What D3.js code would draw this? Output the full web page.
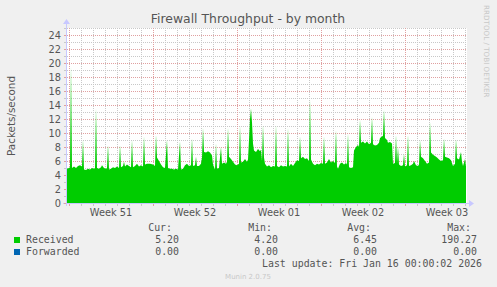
<!DOCTYPE html>
<html lang="en">
<head>
  <meta charset="UTF-8">
  <title>Firewall Throughput - by month</title>
  <style>
    body {
      margin: 0;
      padding: 0;
      background-color: #f0f0f0;
    }
    svg {
      display: block;
      font-family: "DejaVu Sans", sans-serif;
    }
    .mono {
      font-family: "DejaVu Sans Mono", monospace;
      font-size: 9.9px;
      fill: #555;
    }
  </style>
</head>
<body>
  <svg id="chart" width="497" height="287"></svg>

  <script src="https://d3js.org/d3.v7.min.js"></script>
  <script>
    // hours since Mon 15 Dec 2025 00:00, packets/second
    const hours = [
      -4, 0, 2, 4, 6, 10, 14, 18, 22, 26, 28, 30, 34, 38, 42, 46, 50, 52, 54, 56,
      60, 64, 66, 70, 74, 76, 78, 80, 84, 88, 92, 96, 100, 102, 104, 108, 110, 112, 116, 120,
      124, 126, 128, 132, 136, 140, 144, 148, 150, 152, 156, 162, 168, 172, 174, 176, 180, 184, 188, 192,
      196, 198, 202, 206, 210, 214, 218, 222, 224, 228, 232, 236, 240, 244, 246, 248, 252, 254, 256, 260,
      264, 266, 268, 270, 274, 278, 282, 286, 288, 292, 294, 296, 300, 304, 306, 310, 314, 316, 318, 320,
      324, 328, 332, 336, 340, 342, 344, 348, 352, 356, 358, 360, 362, 364, 366, 368, 370, 374, 378, 382,
      384, 386, 388, 390, 392, 396, 400, 404, 408, 412, 414, 416, 420, 424, 428, 432, 436, 438, 440, 444,
      448, 452, 456, 460, 462, 464, 468, 472, 476, 480, 482, 484, 488, 492, 496, 500, 504, 508, 510, 512,
      516, 520, 524, 528, 532, 534, 536, 538, 542, 546, 550, 554, 556, 558, 560, 564, 568, 570, 574, 578,
      580, 582, 584, 588, 592, 596, 600, 604, 606, 608, 612, 616, 620, 622, 626, 628, 630, 632, 636, 638,
      642, 646, 648, 652, 654, 656, 658, 660, 664, 668, 670, 672, 676, 678, 680, 684, 688, 690, 694, 698,
      700, 702, 704, 708, 712, 716, 720, 722, 724, 728, 732, 736, 740, 744, 748, 750, 752, 756, 760, 764,
      768, 772, 774, 776, 780, 784, 786, 788, 792, 794
    ];
    const received = [
      4.9, 5.0, 5.1, 19.5, 5.0, 5.2, 5.0, 5.3, 5.4, 5.2, 9.0, 4.8, 4.7, 4.9, 4.8, 5.0, 4.9, 5.0, 13.5, 5.0,
      4.9, 5.1, 5.4, 5.0, 4.9, 5.0, 8.3, 4.8, 4.9, 5.1, 5.0, 5.2, 5.0, 8.3, 5.1, 5.3, 5.9, 5.2, 5.5, 5.3,
      5.1, 9.0, 5.1, 5.3, 5.6, 5.2, 5.4, 5.2, 9.5, 5.5, 5.6, 5.6, 5.5, 5.3, 9.7, 6.5, 6.0, 5.5, 5.1, 5.0,
      9.0, 5.0, 4.9, 4.9, 4.8, 4.9, 4.8, 8.8, 4.8, 4.9, 5.4, 5.6, 5.3, 5.4, 9.2, 5.3, 5.4, 6.6, 5.3, 5.3,
      5.6, 6.5, 10.7, 7.3, 7.2, 7.4, 7.2, 6.8, 5.5, 4.8, 8.5, 4.9, 5.0, 8.0, 5.6, 5.8, 5.6, 5.9, 10.7, 6.6,
      6.3, 5.9, 5.5, 5.4, 5.6, 11.0, 5.8, 5.9, 6.3, 5.9, 6.2, 9.0, 12.0, 13.5, 11.5, 8.5, 7.5, 7.3, 7.7, 7.4,
      7.6, 6.0, 11.1, 6.5, 5.6, 5.2, 5.4, 5.1, 5.3, 5.2, 11.1, 5.3, 5.1, 5.4, 5.2, 5.3, 5.2, 10.7, 5.2, 5.6,
      5.3, 5.7, 6.1, 6.0, 9.5, 6.4, 6.6, 6.3, 6.4, 6.0, 14.7, 6.2, 5.6, 5.4, 5.6, 5.5, 5.7, 5.6, 9.5, 5.6,
      5.8, 6.3, 5.8, 6.0, 5.7, 10.4, 5.2, 4.9, 5.6, 5.8, 5.5, 5.7, 5.5, 9.9, 5.1, 5.0, 5.1, 7.5, 8.0, 8.3,
      8.0, 11.9, 8.6, 8.8, 8.5, 8.8, 8.4, 8.6, 12.3, 8.4, 8.2, 8.3, 8.6, 9.3, 9.5, 9.6, 13.3, 9.3, 9.0, 8.6,
      8.7, 8.5, 5.6, 5.7, 9.7, 5.6, 8.0, 5.5, 5.3, 5.4, 7.0, 5.2, 5.4, 9.7, 5.3, 5.4, 5.6, 6.0, 5.4, 5.3,
      5.5, 9.0, 6.6, 6.4, 6.0, 5.6, 5.8, 11.6, 7.2, 6.9, 6.7, 6.5, 6.2, 6.0, 6.1, 9.2, 6.6, 6.5, 6.4, 6.1,
      5.3, 5.6, 9.1, 6.4, 6.2, 7.3, 5.9, 5.3, 6.3, 5.2
    ];

    const weekLabels = ['Week 51', 'Week 52', 'Week 01', 'Week 02', 'Week 03'];
    const yTicks = [0, 2, 4, 6, 8, 10, 12, 14, 16, 18, 20, 22, 24];

    const seriesNames = ['Received', 'Forwarded'];
    const seriesColors = ['#00cc00', '#0066b3'];
    const legendHeads = ['Cur:', 'Min:', 'Avg:', 'Max:'];
    const legendValues = [
      ['5.20', '4.20', '6.45', '190.27'],
      ['0.00', '0.00', '0.00', '0.00']
    ];

    const svg = d3.select('#chart');
    const pLeft = 67, pRight = 467, pTop = 28, pBottom = 203;

    const x = d3.scaleLinear().domain([-4, 796]).range([pLeft, pRight]);
    const y = d3.scaleLinear().domain([0, 25]).range([pBottom, pTop]);

    const data = hours.map((h, i) => ({ h: h, v: received[i] }));

    svg.append('rect')
      .attr('width', 497).attr('height', 287)
      .attr('fill', '#f0f0f0');

    svg.append('rect')
      .attr('x', pLeft).attr('y', pTop)
      .attr('width', pRight - pLeft).attr('height', pBottom - pTop)
      .attr('fill', '#ffffff');

    // grid
    const minorY = d3.range(1, 26).filter(d => d % 2 !== 0);
    const majorY = d3.range(2, 26, 2);
    const days = d3.range(0, 796, 24).filter(d => d % 168 !== 0);
    const weeks = d3.range(0, 796, 168);

    svg.append('g').selectAll('line')
      .data(minorY).enter().append('line')
      .attr('x1', pLeft).attr('x2', pRight)
      .attr('y1', d => y(d) + 0.5).attr('y2', d => y(d) + 0.5)
      .attr('stroke', '#c8c8c8').attr('stroke-dasharray', '1,1');

    svg.append('g').selectAll('line')
      .data(days).enter().append('line')
      .attr('x1', d => Math.round(x(d)) + 0.5).attr('x2', d => Math.round(x(d)) + 0.5)
      .attr('y1', pTop).attr('y2', pBottom)
      .attr('stroke', '#c8c8c8').attr('stroke-dasharray', '1,1');

    svg.append('g').selectAll('line')
      .data(majorY).enter().append('line')
      .attr('x1', pLeft).attr('x2', pRight)
      .attr('y1', d => y(d) + 0.5).attr('y2', d => y(d) + 0.5)
      .attr('stroke', '#e0a0a0').attr('stroke-dasharray', '1,1');

    svg.append('g').selectAll('line')
      .data(weeks).enter().append('line')
      .attr('x1', d => Math.round(x(d)) + 0.5).attr('x2', d => Math.round(x(d)) + 0.5)
      .attr('y1', pTop).attr('y2', pBottom)
      .attr('stroke', '#e0a0a0').attr('stroke-dasharray', '1,1');

    // area
    const area = d3.area()
      .x(d => x(d.h))
      .y0(y(0))
      .y1(d => y(Math.min(d.v, 25)));

    svg.append('path')
      .datum(data)
      .attr('d', area)
      .attr('fill', seriesColors[0]);

    // axes
    const axisColor = '#c8c8ff';
    svg.append('line')
      .attr('x1', pLeft - 4).attr('x2', pRight + 2)
      .attr('y1', pBottom + 0.5).attr('y2', pBottom + 0.5)
      .attr('stroke', axisColor);
    svg.append('line')
      .attr('x1', pLeft - 0.5).attr('x2', pLeft - 0.5)
      .attr('y1', pBottom + 3).attr('y2', pTop - 5)
      .attr('stroke', axisColor);
    svg.append('path')
      .attr('d', `M${pRight + 2},${pBottom - 3}L${pRight + 7},${pBottom + 0.5}L${pRight + 2},${pBottom + 4}Z`)
      .attr('fill', axisColor);
    svg.append('path')
      .attr('d', `M${pLeft - 4},${pTop - 4}L${pLeft - 0.5},${pTop - 9}L${pLeft + 3},${pTop - 4}Z`)
      .attr('fill', axisColor);

    // axis tick marks
    svg.append('g').selectAll('line')
      .data(d3.range(0, 26)).enter().append('line')
      .attr('x1', pLeft - 3).attr('x2', pLeft - 1)
      .attr('y1', d => y(d) + 0.5).attr('y2', d => y(d) + 0.5)
      .attr('stroke', d => d % 2 === 0 ? '#e0a0a0' : '#c8c8c8');
    svg.append('g').selectAll('line')
      .data(d3.range(0, 796, 24)).enter().append('line')
      .attr('x1', d => Math.round(x(d)) + 0.5).attr('x2', d => Math.round(x(d)) + 0.5)
      .attr('y1', pBottom + 1).attr('y2', pBottom + 3)
      .attr('stroke', d => d % 168 === 0 ? '#e0a0a0' : '#c8c8c8');

    // y labels
    svg.append('g').selectAll('text')
      .data(yTicks).enter().append('text')
      .attr('x', 61)
      .attr('y', d => y(d) + 3.5)
      .attr('text-anchor', 'end')
      .attr('font-size', '9.8px')
      .attr('fill', '#555')
      .text(d => d);

    // x labels
    svg.append('g').selectAll('text')
      .data(weekLabels).enter().append('text')
      .attr('x', (d, i) => x(84 + i * 168))
      .attr('y', 216)
      .attr('text-anchor', 'middle')
      .attr('font-size', '9.8px')
      .attr('fill', '#555')
      .text(d => d);

    // titles
    svg.append('text')
      .attr('x', 248).attr('y', 23)
      .attr('text-anchor', 'middle')
      .attr('font-size', '12.4px')
      .attr('fill', '#555')
      .text('Firewall Throughput - by month');

    svg.append('text')
      .attr('transform', 'translate(15,116) rotate(-90)')
      .attr('text-anchor', 'middle')
      .attr('font-size', '10.4px')
      .attr('fill', '#555')
      .text('Packets/second');

    svg.append('text')
      .attr('transform', 'translate(484,5) rotate(90)')
      .attr('font-size', '7.2px')
      .attr('fill', '#c8c8c8')
      .text('RRDTOOL / TOBI OETIKER');

    // legend
    const headX = [172, 272, 371, 471];
    const valX = [179, 278, 377, 477];
    svg.append('g').selectAll('text')
      .data(legendHeads).enter().append('text')
      .attr('class', 'mono')
      .attr('x', (d, i) => headX[i]).attr('y', 231)
      .attr('text-anchor', 'end')
      .text(d => d);

    seriesNames.forEach((name, r) => {
      const yy = 243 + r * 12;
      svg.append('rect')
        .attr('x', 14).attr('y', yy - 6)
        .attr('width', 6).attr('height', 6)
        .attr('fill', seriesColors[r]);
      svg.append('text')
        .attr('class', 'mono')
        .attr('x', 26).attr('y', yy)
        .text(name);
      svg.append('g').selectAll('text')
        .data(legendValues[r]).enter().append('text')
        .attr('class', 'mono')
        .attr('x', (d, i) => valX[i]).attr('y', yy)
        .attr('text-anchor', 'end')
        .text(d => d);
    });

    svg.append('text')
      .attr('class', 'mono')
      .attr('x', 482).attr('y', 267)
      .attr('text-anchor', 'end')
      .text('Last update: Fri Jan 16 00:00:02 2026');

    svg.append('text')
      .attr('x', 248).attr('y', 279)
      .attr('text-anchor', 'middle')
      .attr('font-size', '7px')
      .attr('fill', '#c8c8c8')
      .text('Munin 2.0.75');
  </script>
</body>
</html>
